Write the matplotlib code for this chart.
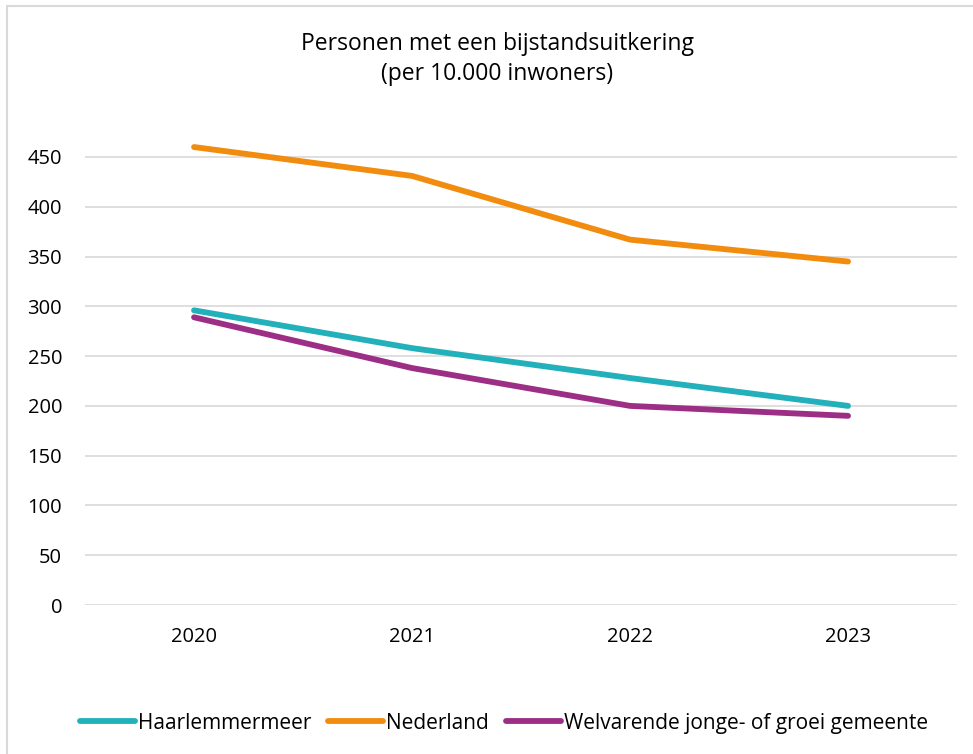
import matplotlib as mpl
mpl.use("Agg")
import matplotlib.pyplot as plt
from matplotlib.patches import Rectangle

plt.rcParams["font.family"] = ["Open Sans", "DejaVu Sans"]

years = ["2020", "2021", "2022", "2023"]
haarlemmermeer = [296, 258, 228, 200]
nederland = [460, 431, 367, 345]
welvarende = [289, 238, 200, 190]
series = [
    ("Haarlemmermeer", haarlemmermeer, "#22B0BA"),
    ("Nederland", nederland, "#F28C0F"),
    ("Welvarende jonge- of groei gemeente", welvarende, "#9C2E86"),
]
yticks = [0, 50, 100, 150, 200, 250, 300, 350, 400, 450]

fig = plt.figure(figsize=(9.73, 7.54), dpi=100)
ax = fig.add_axes([0.0874, 0.1976, 0.8962, 0.6602])

x = list(range(len(years)))
for name, vals, col in series:
    ax.plot(x, vals, color=col, lw=4.2, solid_capstyle="round", label=name, clip_on=False)

ax.set_xlim(-0.5, len(years) - 0.5)
ax.set_ylim(0, 500)
ax.set_yticks(yticks)
ax.set_xticks(x, years)
ax.grid(axis="y", color="#d9d9d9", lw=1.2)
ax.set_axisbelow(True)
for s in ax.spines.values():
    s.set_visible(False)
ax.tick_params(length=0, labelsize=14.5, colors="black")
ax.tick_params(axis="y", pad=16.5)
ax.tick_params(axis="x", pad=16)

fig.text(0.511, 0.922, "Personen met een bijstandsuitkering\n(per 10.000 inwoners)",
         ha="center", va="center", fontsize=16.5, linespacing=1.3)

fig.legend(loc="center", bbox_to_anchor=(0.518, 0.041), ncol=3, frameon=False,
           fontsize=15, handlelength=2.65, handletextpad=0.15, columnspacing=0.8)

# chart frame (only left and top edges are visible in the crop)
fig.patches.append(Rectangle((7 / 973, -0.05), 1.1, 1 - 5.5 / 754 + 0.05,
                             transform=fig.transFigure, fill=False,
                             edgecolor="#d9d9d9", lw=1.5))

fig.savefig("out.png", dpi=100, facecolor="white")
